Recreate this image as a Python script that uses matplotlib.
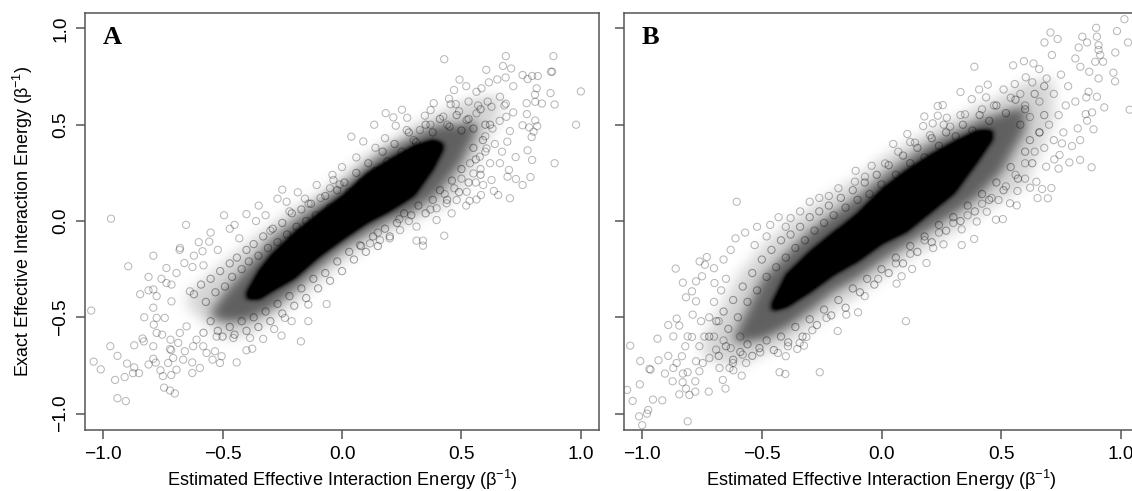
import matplotlib
matplotlib.use("Agg")
import matplotlib.pyplot as plt
import numpy as np

plt.rcParams['font.family'] = ['Liberation Sans', 'DejaVu Sans']
plt.rcParams['mathtext.default'] = 'regular'

tick_values = [-1.0, -0.5, 0.0, 0.5, 1.0]
tick_labels = ['\u22121.0', '\u22120.5', '0.0', '0.5', '1.0']
x_label = 'Estimated Effective Interaction Energy (\u03b2$^{\u22121}$)'
y_label = 'Exact Effective Interaction Energy (\u03b2$^{\u22121}$)'

# Individually resolvable points.
points_a = [
 (-1.05,-.465),(-.97,-.65),(-1.04,-.73),(-1.01,-.77),(-.94,-.70),(-.90,-.74),(-.95,-.825),(-.91,-.81),(-.87,-.76),(-.875,-.79),
 (-.85,-.79),(-.94,-.92),(-.905,-.935),(-.87,-.645),(-.835,-.61),(-.83,-.625),(-.79,-.65),(-.81,-.745),(-.79,-.715),(-.78,-.735),
 (-.76,-.775),(-.75,-.805),(-.715,-.80),(-.745,-.865),(-.72,-.88),(-.70,-.895),(-.72,-.665),(-.715,-.67),(-.895,-.235),(-.79,-.18),
 (-.68,-.15),(-.845,-.38),(-.81,-.29),(-.81,-.36),(-.79,-.355),(-.735,-.244),(-.66,-.218),(-.626,-.239),(-.584,-.157),(-.756,-.30),
 (-.735,-.322),(-.693,-.27),(-.714,-.33),(-.637,-.365),(-.714,-.417),(-.776,-.39),(-.79,-.45),(-.828,-.50),(-.776,-.503),(-.742,-.503),
 (-.788,-.538),(-.776,-.581),(-.753,-.59),(-.718,-.616),(-.679,-.581),(-.651,-.547),(-.686,-.633),(-.658,-.676),(-.623,-.65),(-.609,-.616),
 (-.581,-.65),(-.627,-.789),(-.595,-.763),(-.627,-.734),(-.693,-.772),(-.728,-.737),(-.707,-.711),(-.665,-.72),(-.542,-.72),(-.504,-.702),
 (-.511,-.737),(-.441,-.734),(-.40,-.671),(-.376,-.663),(-.33,-.612),(-.253,-.595),(-.284,-.561),(-.172,-.625),(-.141,-.52),(-.141,-.434),
 (-.064,-.431),(-.211,-.52),(-.239,-.503),(-.385,-.607),(-.455,-.607),(-.525,-.60),(-.567,-.685),(-.532,-.676),(-.967,.012),(-.653,-.02),
 (-.494,.03),(-.40,.036),(-.349,.08),(-.25,.163),(-.27,.116),(-.232,.10),(-.185,.149),(-.155,.116),(-.106,.187),(-.036,.213),
 (-.556,-.107),(-.678,-.14),(-.60,-.11),(-.62,-.18),(-.58,-.23),(-.55,-.06),(-.52,-.15),(-.47,-.04),(-.45,-.02),(-.43,-.09),
 (-.36,.0),(-.32,.03),(-.30,-.05),(-.22,.05),(-.14,.09),(-.09,.12),(-.05,.17),(-.01,.19),
 (1.00,.673),(.98,.50),(.89,.30),(.885,.856),(.875,.775),(.88,.775),(.873,.664),(.89,.605),(.837,.61),(.82,.753),
 (.796,.753),(.777,.737),(.756,.758),(.686,.856),(.674,.805),(.708,.792),(.604,.785),(.428,.84),(.492,.734),(.52,.70),
 (.469,.68),(.615,.72),(.65,.735),(.685,.745),(.717,.70),(.808,.656),(.815,.689),(.773,.612),(.809,.619),(.686,.609),
 (.688,.541),(.774,.555),(.717,.564),(.756,.497),(.784,.486),(.817,.493),(.809,.522),(.802,.464),(.794,.436),(.703,.467),
 (.692,.412),(.777,.367),(.727,.332),(.796,.317),(.789,.228),(.756,.187),(.728,.218),(.699,.265),(.693,.23),(.703,.118),
 (.654,.135),(.636,.156),(.582,.135),(.563,.112),(.534,.105),(.428,-.076),(.312,-.102),(.339,-.102),(.339,-.128),(.384,.612),
 (.251,.578),(.183,.56),(.135,.50),(.039,.438),(.089,.413),(.448,.635),(.476,.607),(.455,.606),(.371,.576),(.347,.547),
 (.273,.536),(.215,.538),(.225,.495),(.271,.472),(.326,.472),(.424,.542),(.522,.524),(.563,.559),(.626,.593),(.661,.645),
 (.584,.689),(.563,.671),(.243,-.047),(.396,.005),(.459,.04),(.522,.152),(.591,.187),(.626,.213),(.661,.30),(.536,.30),
 (.577,.334),(.605,.377),(.55,.247),(.48,.109),(.438,.092),(.396,.066),(.312,-.029),(.20,-.09),(.159,-.099),(.117,-.116),
 (.075,-.125),(.60,.44),(.64,.40),(.67,.36),(.62,.30),(.58,.27),(.63,.48),(.66,.52),(.68,.60),(.61,.62),(.57,.60),
 (.53,.62),(.49,.57),(.44,.50),(.37,.50),(.30,.42),(.18,.43),(.14,.38),(.06,.33),(.0,.28),(-.04,.24),
 (.50,.22),(.47,.17),(.43,.14),(.37,.06),(.28,.0),(.24,.01),(.15,-.06),(.52,.08),(.56,.20),(.60,.36),
]
points_b = [
 (-1.05,-.647),(-1.008,-.727),(-1.063,-.877),(-1.01,-.848),(-1.04,-.934),(-1.013,-1.014),(-.975,-.981),(-.98,-1.0),(-1.0,-1.06),(-.955,-.927),
 (-.916,-.931),(-.97,-.768),(-.965,-.772),(-.936,-.611),(-.932,-.723),(-.891,-.70),(-.905,-.792),(-.873,-.832),(-.87,-.763),(-.891,-.54),
 (-.856,-.507),(-.845,-.543),(-.87,-.599),(-.86,-.247),(-.83,-.32),(-.817,-.396),(-.792,-.365),(-.775,-.313),(-.76,-.21),(-.73,-.187),
 (-.738,-.227),(-.75,-.287),(-.698,-.322),(-.775,-.417),(-.789,-.486),(-.754,-.52),(-.81,-.599),(-.792,-.602),(-.82,-.65),(-.834,-.702),
 (-.856,-.737),(-.81,-.785),(-.83,-.792),(-.831,-.837),(-.817,-.87),(-.778,-.832),(-.778,-.886),(-.845,-.90),(-.803,-.903),(-.722,-.886),
 (-.81,-1.04),(-.652,-.87),(-.663,-.825),(-.584,-.803),(-.619,-.775),(-.635,-.763),(-.677,-.763),(-.761,-.78),(-.747,-.737),(-.775,-.728),
 (-.719,-.711),(-.691,-.668),(-.761,-.65),(-.58,-.694),(-.566,-.737),(-.621,-.737),(-.507,-.682),(-.426,-.785),(-.402,-.794),(-.258,-.785),
 (-.183,-.571),(.102,-.52),(-.40,-.702),(-.433,-.685),(-.352,-.664),(-.324,-.647),(-.342,-.633),(-.391,-.65),(-.289,-.567),(-.314,-.602),
 (-.23,-.503),(-.147,-.486),(-.098,-.474),(-.07,-.39),(-.014,-.30),(.063,-.325),(.128,-.249),(.084,-.287),(.188,-.218),(.216,-.14),
 (-.605,.10),(-.38,.015),(-.465,-.02),(-.53,-.125),(-.63,-.15),(-.70,-.245),(-.66,-.20),(-.61,-.09),(-.57,-.06),(-.52,-.03),
 (-.48,-.08),(-.43,.02),(-.40,-.03),(-.34,.05),(-.30,.10),(-.26,.12),(-.22,.13),(-.18,.17),(-.70,-.42),(-.67,-.36),
 (-.65,-.30),(-.72,-.50),(-.68,-.52),(-.74,-.60),(-.70,-.60),(-.66,-.62),(-.63,-.66),(-.59,-.60),
 (1.037,.578),(1.03,.927),(1.015,1.048),(.984,.986),(.977,.875),(.969,.77),(.976,.725),(.931,.59),(.897,1.003),(.90,.957),
 (.907,.913),(.907,.888),(.914,.862),(.893,.827),(.926,.827),(.839,.957),(.859,.927),(.824,.901),(.706,.979),(.681,.927),
 (.736,.945),(.712,.862),(.595,.83),(.55,.808),(.388,.801),(.444,.708),(.408,.683),(.33,.67),(.635,.818),(.659,.789),
 (.603,.746),(.557,.711),(.81,.844),(.831,.801),(.868,.775),(.907,.74),(.90,.645),(.865,.671),(.856,.642),(.88,.564),
 (.853,.555),(.859,.521),(.886,.476),(.82,.481),(.83,.42),(.796,.389),(.754,.403),(.744,.343),(.785,.304),(.83,.317),
 (.878,.279),(.74,.272),(.688,.282),(.722,.32),(.71,.171),(.671,.166),(.695,.118),(.652,.119),(.647,.204),(.621,.173),
 (.565,.081),(.537,.092),(.568,.156),(.478,.007),(.507,.01),(.387,-.093),(.335,-.125),(.259,-.121),(.335,-.043),(.398,-.003),
 (.44,.048),(.489,.109),(.256,.602),(.235,.597),(.179,.543),(.273,.536),(.235,.547),(.214,.507),(.174,.493),(.108,.452),
 (.14,.407),(.049,.40),(-.041,.287),(-.108,.261),(.015,.299),(.377,.633),(.437,.642),(.51,.683),(.349,.554),(.287,.49),
 (.203,.446),(-.069,.23),(-.111,.204),(.63,.72),(.69,.74),(.75,.76),(.78,.70),(.72,.66),(.66,.62),(.60,.60),
 (.77,.60),(.81,.62),(.74,.55),(.70,.50),(.66,.46),(.76,.46),(.72,.42),(.64,.36),(.60,.30),(.68,.38),
 (.56,.24),(.60,.22),(.52,.18),(.46,.12),(.42,.09),(.36,.03),(.30,-.01),(.24,-.06),(.18,-.10),(.12,-.17),
 (.06,-.22),(.47,.60),(.42,.58),(.33,.55),(.26,.50),(.12,.41),(.07,.36),(.54,.64),(.58,.66),(.62,.54),
]

# Estimated points in the crowded fringe of the cloud.
fringe_a = [
 (-.62,-.38),(-.59,-.33),(-.57,-.42),(-.55,-.30),(-.53,-.37),(-.51,-.26),(-.49,-.34),(-.47,-.22),(-.46,-.29),(-.44,-.19),
 (-.42,-.25),(-.40,-.15),(-.39,-.21),(-.37,-.12),(-.35,-.18),(-.33,-.08),(-.31,-.14),(-.29,-.04),(-.27,-.11),(-.25,-.01),
 (-.23,-.07),(-.21,.04),(-.19,-.03),(-.17,.06),(-.15,.0),(-.13,.09),(-.11,.03),(-.07,.13),(-.05,.07),(-.02,.16),
 (.01,.2),(.03,.15),(.06,.25),(.08,.2),(.11,.3),(.14,.26),(.17,.36),(.19,.31),(.22,.4),(.25,.36),
 (.28,.46),(.31,.41),(.35,.5),(.38,.46),(.41,.53),(.45,.49),(.48,.55),(.5,.47),(.53,.53),(.55,.48),(.58,.58),(.6,.5),
 (-.58,-.58),(-.55,-.52),(-.52,-.57),(-.5,-.6),(-.47,-.55),(-.45,-.59),(-.42,-.52),(-.4,-.57),(-.37,-.5),(-.35,-.55),
 (-.32,-.47),(-.3,-.52),(-.27,-.43),(-.25,-.48),(-.22,-.39),(-.2,-.44),(-.17,-.35),(-.15,-.4),(-.12,-.3),(-.1,-.35),
 (-.07,-.27),(-.05,-.31),(-.02,-.21),(.0,-.26),(.03,-.16),(.05,-.2),(.08,-.13),(.1,-.16),(.13,-.08),(.15,-.13),
 (.18,-.04),(.2,-.08),(.23,-.01),(.26,.04),(.29,.03),(.32,.08),(.35,.04),(.38,.11),(.41,.16),(.44,.11),
 (.46,.21),(.49,.15),(.5,.27),(.53,.2),(.56,.32),(.58,.24),(.59,.42),(.55,.38),(.62,.5),
]
fringe_b = [
 (-.72,-.6),(-.69,-.52),(-.66,-.47),(-.64,-.56),(-.62,-.41),(-.6,-.5),(-.58,-.34),(-.56,-.42),(-.54,-.27),(-.52,-.36),
 (-.5,-.2),(-.48,-.29),(-.46,-.15),(-.44,-.24),(-.42,-.1),(-.4,-.19),(-.38,-.07),(-.36,-.14),(-.34,-.03),(-.32,-.1),
 (-.3,.02),(-.28,-.05),(-.26,.05),(-.24,-.01),(-.22,.08),(-.2,.03),(-.17,.12),(-.15,.07),(-.12,.16),(-.1,.11),
 (-.07,.2),(-.05,.14),(-.02,.24),(.0,.19),(.03,.29),(.06,.24),(.09,.34),(.12,.3),(.15,.38),(.18,.33),
 (.21,.43),(.24,.39),(.27,.46),(.31,.44),(.34,.5),(.38,.47),(.41,.55),(.45,.52),(.48,.6),(.52,.56),(.56,.63),(.6,.58),(.64,.66),(.68,.7),
 (-.68,-.7),(-.65,-.65),(-.62,-.72),(-.59,-.68),(-.56,-.64),(-.54,-.7),(-.51,-.66),(-.48,-.62),(-.45,-.67),(-.42,-.6),
 (-.39,-.63),(-.36,-.55),(-.33,-.6),(-.3,-.51),(-.27,-.54),(-.24,-.46),(-.21,-.49),(-.18,-.41),(-.15,-.45),(-.12,-.35),
 (-.09,-.37),(-.06,-.3),(-.03,-.33),(.0,-.25),(.03,-.27),(.06,-.19),(.09,-.22),(.12,-.13),(.15,-.16),(.18,-.08),
 (.21,-.11),(.24,-.02),(.27,-.05),(.3,.02),(.33,.0),(.36,.08),(.39,.05),(.42,.14),(.45,.11),(.48,.2),
 (.51,.16),(.54,.28),(.57,.22),(.6,.36),(.63,.3),(.66,.46),(.62,.42),(.58,.5),(.68,.55),
]

# Outlines of the saturated cloud, where single points cannot be read.
dense_a_x = [-.40,-.35,-.3,-.2,-.1,0,.1,.2,.3,.38,.42]
dense_a_top = [-.37,-.26,-.18,-.06,.04,.13,.245,.32,.39,.42,.40]
dense_a_bottom = [-.41,-.41,-.37,-.30,-.19,-.10,-.015,.05,.13,.27,.37]
mid_a_x = [-.55,-.5,-.4,-.3,-.2,-.1,0,.1,.2,.3,.4,.5,.56]
mid_a_top = [-.47,-.38,-.24,-.1,.0,.09,.18,.29,.38,.44,.5,.5,.52]
mid_a_bottom = [-.5,-.53,-.52,-.46,-.36,-.25,-.15,-.07,0,.05,.14,.3,.45]
thin_a_x = [-.65,-.5,-.4,-.3,-.2,-.1,0,.1,.2,.3,.4,.5,.66]
thin_a_top = [-.38,-.22,-.12,-.02,.07,.14,.24,.34,.42,.5,.56,.62,.66]
thin_a_bottom = [-.45,-.62,-.6,-.53,-.43,-.33,-.22,-.14,-.06,.0,.05,.15,.55]

dense_b_x = [-.46,-.4,-.3,-.2,-.1,0,.1,.2,.3,.4,.46]
dense_b_top = [-.43,-.28,-.16,-.06,.04,.165,.26,.34,.41,.47,.47]
dense_b_bottom = [-.47,-.45,-.37,-.28,-.21,-.12,-.06,.04,.14,.31,.42]
mid_b_x = [-.62,-.5,-.4,-.3,-.2,-.1,0,.1,.2,.3,.4,.5,.6]
mid_b_top = [-.6,-.3,-.17,-.05,.04,.13,.23,.32,.4,.46,.52,.56,.6]
mid_b_bottom = [-.64,-.62,-.56,-.47,-.37,-.3,-.21,-.13,-.05,.03,.12,.25,.47]
thin_b_x = [-.75,-.6,-.5,-.4,-.3,-.2,-.1,0,.1,.2,.3,.4,.5,.6,.72]
thin_b_top = [-.62,-.28,-.13,-.02,.07,.15,.23,.33,.4,.47,.53,.6,.65,.72,.74]
thin_b_bottom = [-.72,-.76,-.7,-.65,-.56,-.47,-.39,-.3,-.21,-.14,-.06,.02,.1,.18,.52]

W, H = 1132, 491
fig = plt.figure(figsize=(W / 100, H / 100), dpi=100)
spine = '#555555'
XL, YL = (-1.076, 1.076), (-1.085, 1.08)
gx = np.linspace(XL[0], XL[1], 800)
gy = np.linspace(YL[0], YL[1], 800)
GX, GY = np.meshgrid(gx, gy)

def layer(env):
    x, top, bot = env
    t = np.interp(gx, x, top)
    b = np.interp(gx, x, bot)
    mask = (gx >= x[0]) & (gx <= x[-1])
    return ((GY <= t[None, :]) & (GY >= b[None, :]) & mask[None, :]).astype(float)

def soften(img, sigma):
    kx = np.exp(-.5 * ((gx - gx[400]) / sigma) ** 2)
    kx /= kx.sum()
    img = np.apply_along_axis(lambda r: np.convolve(r, kx, mode='same'), 1, img)
    return np.apply_along_axis(lambda r: np.convolve(r, kx, mode='same'), 0, img)

def panel(left, right, letter, pts, fringe, dense, mid, thin, show_y):
    ax = fig.add_axes([left / W, 1 - 430 / H, (right - left) / W, 417 / H])
    ax.set_xlim(*XL)
    ax.set_ylim(*YL)
    shade = .20 * soften(layer(thin), .03) + .45 * soften(layer(mid), .025) + .55 * soften(layer(dense), .012)
    ax.imshow(np.clip(shade, 0, 1) ** 1.1, extent=(*XL, *YL), origin='lower', cmap='gray_r',
              vmin=0, vmax=1, aspect='auto', interpolation='bilinear', zorder=1)
    xs, ys = zip(*pts)
    ax.scatter(xs, ys, s=27, facecolors='none', edgecolors=(0, 0, 0, .28), linewidths=.75, zorder=2)
    xs, ys = zip(*fringe)
    ax.scatter(xs, ys, s=27, facecolors='none', edgecolors=(0, 0, 0, .36), linewidths=.75, zorder=2)
    for s in ax.spines.values():
        s.set_color(spine)
        s.set_linewidth(1.1)
    ax.set_xticks(tick_values, tick_labels)
    ax.set_yticks(tick_values, tick_labels if show_y else [])
    ax.tick_params(axis='x', length=6.5, width=1.1, color=spine, labelsize=13.8, pad=5)
    ax.tick_params(axis='y', length=6.5, width=1.1, color=spine, labelsize=13.8, pad=5)
    for t in ax.get_yticklabels():
        t.set_rotation(90)
        t.set_va('center')
    ax.set_xlabel(x_label, fontsize=13.1, labelpad=3.5)
    if show_y:
        ax.set_ylabel(y_label, fontsize=12.9, labelpad=12)
    ax.text(.034, .97, letter, transform=ax.transAxes, family='Liberation Serif',
            weight='bold', fontsize=19, va='top', ha='left')

panel(85, 599, 'A', points_a, fringe_a, (dense_a_x, dense_a_top, dense_a_bottom),
      (mid_a_x, mid_a_top, mid_a_bottom), (thin_a_x, thin_a_top, thin_a_bottom), True)
panel(624, 1139, 'B', points_b, fringe_b, (dense_b_x, dense_b_top, dense_b_bottom),
      (mid_b_x, mid_b_top, mid_b_bottom), (thin_b_x, thin_b_top, thin_b_bottom), False)

fig.savefig('out.png', dpi=100)
